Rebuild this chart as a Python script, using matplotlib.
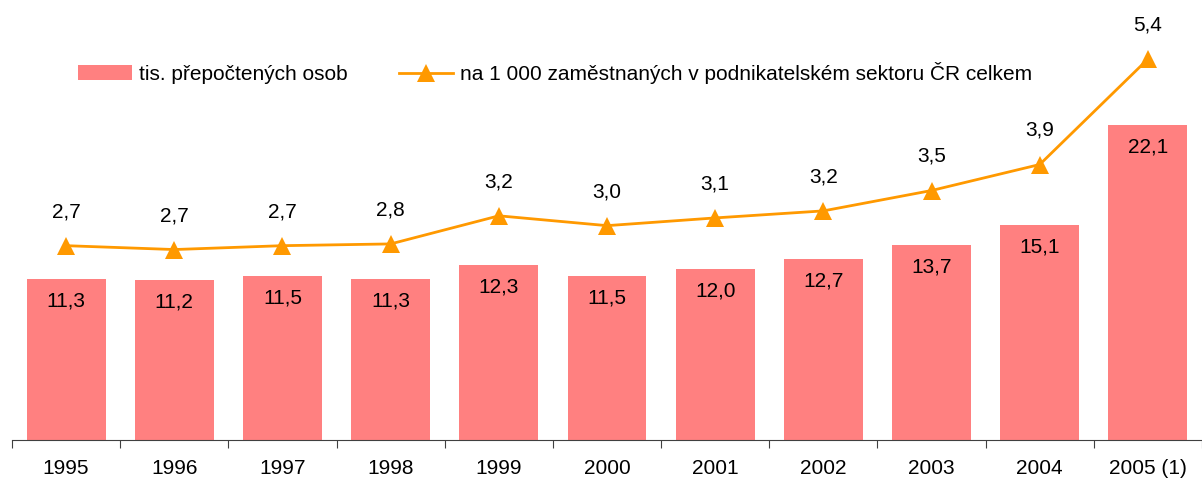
import matplotlib
matplotlib.use("Agg")
import matplotlib.pyplot as plt
import numpy as np

plt.rcParams['font.family'] = ['Liberation Sans', 'DejaVu Sans']

years = ['1995', '1996', '1997', '1998', '1999', '2000', '2001', '2002', '2003', '2004', '2005 (1)']
persons = [11.3, 11.2, 11.5, 11.3, 12.3, 11.5, 12.0, 12.7, 13.7, 15.1, 22.1]
per_1000 = [2.745, 2.69, 2.745, 2.77, 3.17, 3.03, 3.14, 3.24, 3.53, 3.90, 5.40]
label_bar = 'tis. přepočtených osob'
label_line = 'na 1 000 zaměstnaných v podnikatelském sektoru ČR celkem'

bar_color = '#FF8080'
line_color = '#FF9900'
fs = 15

fig = plt.figure(figsize=(12.02, 4.79), dpi=100)
ax = fig.add_axes([12/1202, 1-440/479, 1190/1202, 428/479])
x = np.arange(len(years))
bars = ax.bar(x, persons, width=0.73, color=bar_color, zorder=2, label=label_bar)
ax.set_ylim(0, 30)
ax.set_xlim(-0.5, len(years) - 0.5)
for s in ['top', 'left', 'right']:
    ax.spines[s].set_visible(False)
ax.spines['bottom'].set_color('#404040')
ax.set_yticks([])
ax.set_xticks(np.arange(len(years) + 1) - 0.5)
ax.set_xticklabels([])
ax.tick_params(axis='x', which='major', direction='out', length=6, color='#404040')
ax.set_xticks(x, minor=True)
ax.set_xticklabels(years, minor=True, fontsize=fs)
ax.tick_params(axis='x', which='minor', length=0, pad=14)

for xi, v in zip(x, persons):
    ax.annotate(f'{v:.1f}'.replace('.', ','), (xi, v), xytext=(0, -16), textcoords='offset points',
                ha='center', va='center', fontsize=fs, zorder=5)

ax2 = ax.twinx()
ax2.set_ylim(-0.02, 6.07)
ax2.set_yticks([])
for s in ['top', 'left', 'right', 'bottom']:
    ax2.spines[s].set_visible(False)
line, = ax2.plot(x, per_1000, color=line_color, lw=2, marker='^', markersize=13,
                 markeredgewidth=0, label=label_line, zorder=3)
for xi, v in zip(x, per_1000):
    ax2.annotate(f'{v:.1f}'.replace('.', ','), (xi, v), xytext=(0, 24.5), textcoords='offset points',
                 ha='center', va='center', fontsize=fs)

fig.legend([bars, line], [label_bar, label_line], loc='center', bbox_to_anchor=(555/1202, 1-73/479),
           ncol=2, frameon=False, fontsize=fs, handlelength=2.6, handletextpad=0.3,
           columnspacing=2.5, handleheight=0.7)

fig.savefig('out.png', dpi=100)
